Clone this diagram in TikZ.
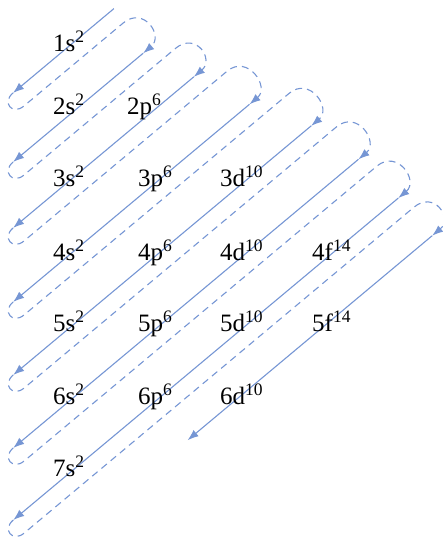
\documentclass[tikz,border=0pt]{standalone}
\usepackage{fontspec}
\setmainfont{Liberation Serif}
\usetikzlibrary{arrows.meta}
\definecolor{lineblue}{RGB}{118,150,212}

\begin{document}
\begin{tikzpicture}[
    x=1pt, y=1pt,
    orbit/.style={draw=lineblue, line width=1.1pt, -{Latex[length=11pt,width=8pt]}},
    turn/.style={orbit, dash pattern=on 7pt off 5pt},
    level/.style={anchor=base west, inner sep=0pt, font=\fontsize{25}{29}\selectfont}
]
    \useasboundingbox (0,0) rectangle (442,537);

    % diagonals, drawn in a frame turned along the lines
    \begin{scope}[shift={(13,444)}, rotate=39.9]
        \coordinate (top1) at (131.5,0);      \coordinate (bot1) at (0,0);
        \coordinate (top2) at (125.4,-53.0);  \coordinate (bot2) at (-44.2,-53.0);
        \coordinate (top3) at (149.1,-103.6); \coordinate (bot3) at (-86.5,-103.6);
        \coordinate (top4) at (174.2,-160.4); \coordinate (bot4) at (-133.9,-160.4);
        \coordinate (top5) at (207.7,-216.5); \coordinate (bot5) at (-180.7,-216.5);
        \coordinate (top6) at (222.5,-272.5); \coordinate (bot6) at (-227.5,-272.5);
        \coordinate (top7) at (228.2,-327.8); \coordinate (bot7) at (-273.7,-327.8);
        \coordinate (top8) at (230.1,-378.4); \coordinate (bot8) at (-88.8,-378.4);

        \foreach \i in {1,...,8}
            \draw[orbit] (top\i) -- (bot\i);

        \foreach \v/\ub/\vn/\ut [count=\i] in {0/0/-53.0/125.4, -53.0/-44.2/-103.6/149.1,
                -103.6/-86.5/-160.4/174.2, -160.4/-133.9/-216.5/207.7, -216.5/-180.7/-272.5/222.5,
                -272.5/-227.5/-327.8/228.2, -327.8/-273.7/-378.4/230.1} {
            \pgfmathtruncatemacro\j{\i+1}
            \draw[turn] (bot\i) .. controls (\ub-15,\v) and (\ub-15,\v-17) .. (\ub,\v-17)
                -- (\ut+4,\v-17) .. controls (\ut+31,\v-17) and (\ut+27,\vn) .. (top\j);
        }
    \end{scope}

    \node[level] (o1s) at (53,485) {1s\textsuperscript{2}};
    \node[level] (o2s) at (53,422) {2s\textsuperscript{2}};
    \node[level] (o2p) at (127,422) {2p\textsuperscript{6}};
    \node[level] (o3s) at (53,350) {3s\textsuperscript{2}};
    \node[level] (o3p) at (138,350) {3p\textsuperscript{6}};
    \node[level] (o3d) at (220,350) {3d\textsuperscript{10}};
    \node[level] (o4s) at (53,276) {4s\textsuperscript{2}};
    \node[level] (o4p) at (138,276) {4p\textsuperscript{6}};
    \node[level] (o4d) at (220,276) {4d\textsuperscript{10}};
    \node[level] (o4f) at (312,276) {4f\textsuperscript{14}};
    \node[level] (o5s) at (53,205) {5s\textsuperscript{2}};
    \node[level] (o5p) at (138,205) {5p\textsuperscript{6}};
    \node[level] (o5d) at (220,205) {5d\textsuperscript{10}};
    \node[level] (o5f) at (312,205) {5f\textsuperscript{14}};
    \node[level] (o6s) at (53,132) {6s\textsuperscript{2}};
    \node[level] (o6p) at (138,132) {6p\textsuperscript{6}};
    \node[level] (o6d) at (220,132) {6d\textsuperscript{10}};
    \node[level] (o7s) at (53,60) {7s\textsuperscript{2}};
\end{tikzpicture}
\end{document}
